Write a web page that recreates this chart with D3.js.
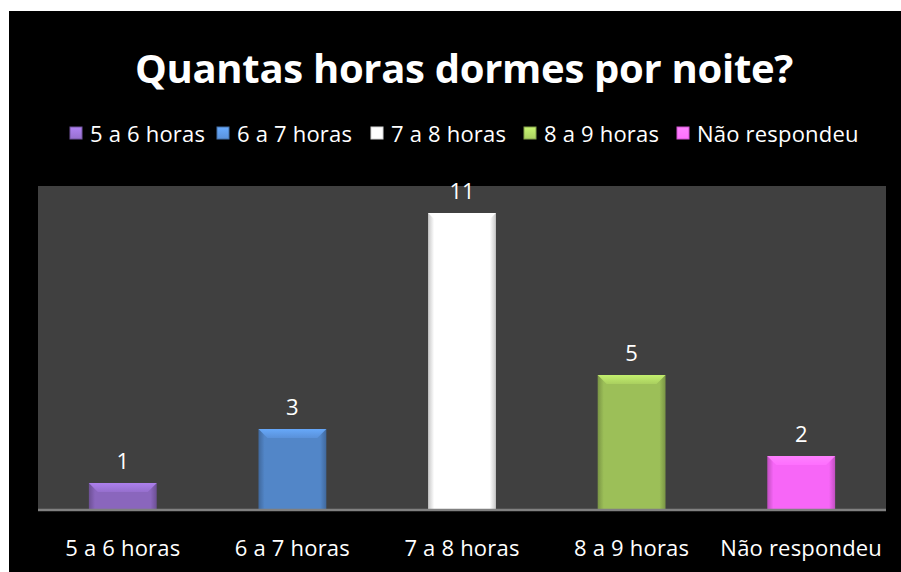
<!DOCTYPE html>
<html>
<head>
<meta charset="utf-8">
<script src="https://cdn.jsdelivr.net/npm/d3@7"></script>
<style>
  html, body { margin: 0; padding: 0; background: #ffffff; }
  svg { display: block; }
  text { font-family: "Open Sans", "DejaVu Sans", sans-serif; fill: #ffffff; }
</style>
</head>
<body>
<svg id="chart" width="901" height="572"></svg>
<script>
// Sleep-hours survey
const categories = ["5 a 6 horas", "6 a 7 horas", "7 a 8 horas", "8 a 9 horas", "Não respondeu"];
const counts = [1, 3, 11, 5, 2];
const barColors = ["#8a66bd", "#5286c8", "#ffffff", "#9cbf58", "#f766f7"];
const yDomain = [0, 12];
const titleText = "Quantas horas dormes por noite?";

const svg = d3.select("#chart");
const W = 901, H = 572;

// dark card with a thin white margin on top/left
svg.append("rect").attr("x", 9).attr("y", 11).attr("width", W - 9).attr("height", H - 11).attr("fill", "#000000");

const plot = { left: 38, right: 886, top: 186, bottom: 510 };

const x = d3.scaleBand().domain(categories).range([plot.left, plot.right]).paddingInner(0.6).paddingOuter(0.3);
const y = d3.scaleLinear().domain(yDomain).range([plot.bottom, plot.top]);

// plot background
svg.append("rect")
  .attr("x", plot.left).attr("y", plot.top)
  .attr("width", plot.right - plot.left).attr("height", plot.bottom - plot.top)
  .attr("fill", "#404040");

const defs = svg.append("defs");
barColors.forEach((c, i) => {
  const base = d3.color(c);
  const g = defs.append("linearGradient").attr("id", "side" + i).attr("x1", 0).attr("x2", 1).attr("y1", 0).attr("y2", 0);
  g.append("stop").attr("offset", "0%").attr("stop-color", base.darker(0.7));
  g.append("stop").attr("offset", "9%").attr("stop-color", base);
  g.append("stop").attr("offset", "91%").attr("stop-color", base);
  g.append("stop").attr("offset", "100%").attr("stop-color", base.darker(0.7));
  const t = defs.append("linearGradient").attr("id", "top" + i).attr("x1", 0).attr("x2", 0).attr("y1", 0).attr("y2", 1);
  t.append("stop").attr("offset", "0%").attr("stop-color", base.brighter(0.7));
  t.append("stop").attr("offset", "100%").attr("stop-color", base.brighter(0.25));
});

const bars = svg.append("g").selectAll("g.bar")
  .data(categories.map((c, i) => ({ c, v: counts[i], i })))
  .join("g").attr("class", "bar");

bars.append("rect")
  .attr("x", d => x(d.c))
  .attr("y", d => y(d.v))
  .attr("width", x.bandwidth())
  .attr("height", d => y(0) - y(d.v))
  .attr("fill", d => `url(#side${d.i})`);

// bevelled top edge
const bevel = 9;
bars.append("path")
  .attr("d", d => {
    const x0 = x(d.c), x1 = x0 + x.bandwidth(), t = y(d.v);
    return `M${x0},${t} L${x1},${t} L${x1 - bevel},${t + bevel} L${x0 + bevel},${t + bevel} Z`;
  })
  .attr("fill", d => `url(#top${d.i})`)
  .attr("opacity", 0.9);

// value labels
bars.append("text")
  .attr("x", d => x(d.c) + x.bandwidth() / 2)
  .attr("y", d => y(d.v) - 14)
  .attr("text-anchor", "middle")
  .attr("font-size", 22)
  .text(d => d.v);

// category axis
const xAxis = svg.append("g")
  .attr("transform", `translate(0,${plot.bottom})`)
  .call(d3.axisBottom(x).tickSize(0).tickPadding(30));
xAxis.select(".domain").attr("stroke", "#808080").attr("stroke-width", 2.5)
  .attr("d", `M${plot.left},0H${plot.right}`);
xAxis.selectAll(".tick text")
  .attr("font-size", 22)
  .attr("letter-spacing", 0.2)
  .attr("fill", "#ffffff")
  .attr("font-family", "'Open Sans', sans-serif");

// title
svg.append("text")
  .attr("x", 464).attr("y", 83)
  .attr("text-anchor", "middle")
  .attr("font-size", 40)
  .attr("font-weight", "bold")
  .attr("letter-spacing", -0.3)
  .text(titleText);

// legend
const legendPos = [70, 217, 371, 524, 677];
const legend = svg.append("g").selectAll("g")
  .data(categories.map((c, i) => ({ c, i })))
  .join("g")
  .attr("transform", d => `translate(${legendPos[d.i]},134)`);
legend.append("rect")
  .attr("x", 0).attr("y", -7).attr("width", 12).attr("height", 12)
  .attr("fill", d => `url(#top${d.i})`)
  .attr("stroke", d => d3.color(barColors[d.i]).darker(0.5))
  .attr("stroke-width", 1);
legend.append("text")
  .attr("x", 20).attr("y", 8)
  .attr("font-size", 22)
  .attr("letter-spacing", 0.2)
  .text(d => d.c);
</script>
</body>
</html>
